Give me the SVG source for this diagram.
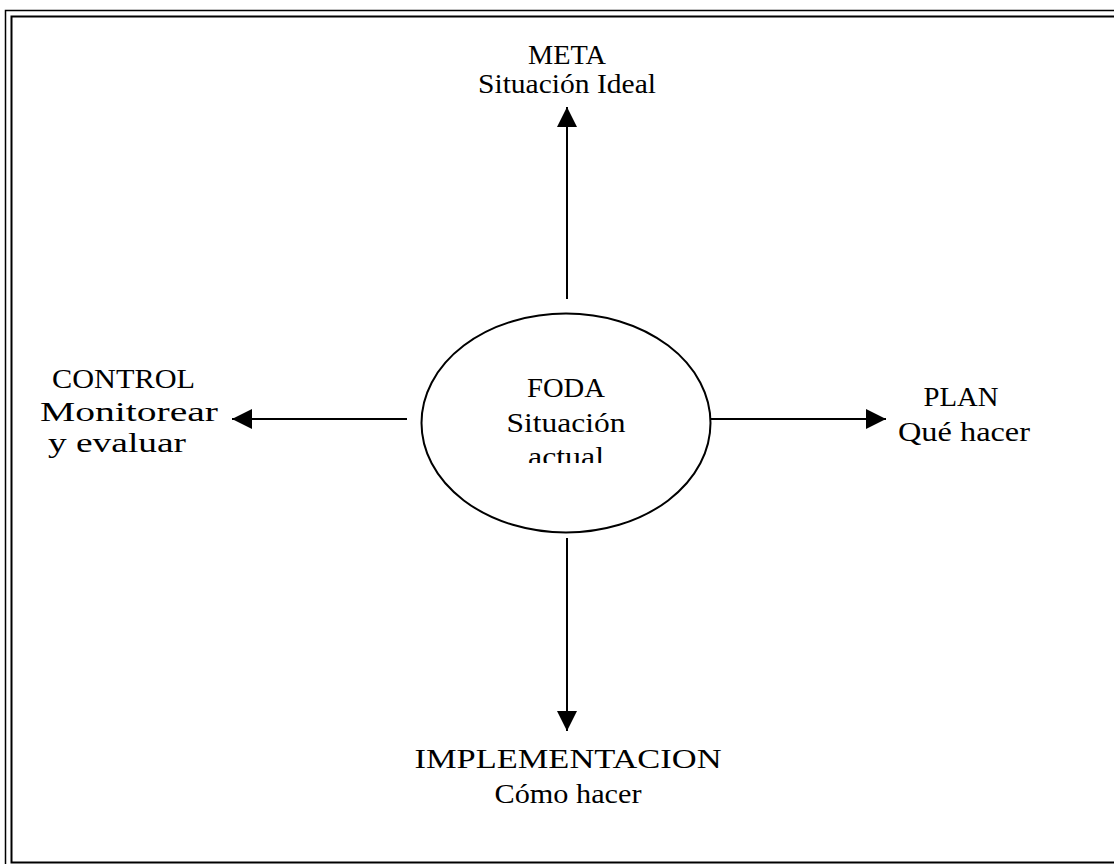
<svg xmlns="http://www.w3.org/2000/svg" width="1114" height="864" viewBox="0 0 1114 864">
  <style>
    .lbl { font-family: "Liberation Serif", "Times New Roman", serif; font-size: 27px; fill: #000; text-anchor: middle; }
    .conn { stroke: #000; stroke-width: 2; fill: none; }
  </style>
  <defs>
    <marker id="arrow" markerUnits="userSpaceOnUse" markerWidth="22" markerHeight="22" refX="20" refY="10" orient="auto">
      <path d="M0,0 L20,10 L0,20 Z" fill="#000"/>
    </marker>
    <clipPath id="clipFoda">
      <rect x="400" y="300" width="330" height="163"/>
    </clipPath>
  </defs>
  <rect width="1114" height="864" fill="#fff"/>
  <g id="frame">
    <rect x="5.5" y="10.5" width="1120" height="870" fill="none" stroke="#000" stroke-width="1.5"/>
    <rect x="11.5" y="16.5" width="1120" height="846" fill="none" stroke="#000" stroke-width="2"/>
  </g>
  <g id="connectors">
    <line class="conn" x1="567" y1="299" x2="567" y2="107" marker-end="url(#arrow)"/>
    <line class="conn" x1="567" y1="538" x2="567" y2="731" marker-end="url(#arrow)"/>
    <line class="conn" x1="407" y1="419" x2="232" y2="419" marker-end="url(#arrow)"/>
    <line class="conn" x1="710" y1="419" x2="886" y2="419" marker-end="url(#arrow)"/>
  </g>
  <g id="foda">
    <ellipse cx="566" cy="423" rx="144.5" ry="109.5" fill="#fff" stroke="#000" stroke-width="2"/>
    <g clip-path="url(#clipFoda)">
      <text class="lbl" x="566" y="397" textLength="78" lengthAdjust="spacingAndGlyphs">FODA</text>
      <text class="lbl" x="566" y="431.5" textLength="119" lengthAdjust="spacingAndGlyphs">Situación</text>
      <text class="lbl" x="566" y="466" textLength="76" lengthAdjust="spacingAndGlyphs">actual</text>
    </g>
  </g>
  <g id="meta">
    <text class="lbl" x="567" y="64" textLength="78" lengthAdjust="spacingAndGlyphs">META</text>
    <text class="lbl" x="567" y="93" textLength="178" lengthAdjust="spacingAndGlyphs">Situación Ideal</text>
  </g>
  <g id="control">
    <text class="lbl" x="123.5" y="388" textLength="143" lengthAdjust="spacingAndGlyphs">CONTROL</text>
    <text class="lbl" x="129" y="421" textLength="178" lengthAdjust="spacingAndGlyphs">Monitorear</text>
    <text class="lbl" x="117" y="452" textLength="138" lengthAdjust="spacingAndGlyphs">y evaluar</text>
  </g>
  <g id="plan">
    <text class="lbl" x="961" y="406" textLength="75" lengthAdjust="spacingAndGlyphs">PLAN</text>
    <text class="lbl" x="964" y="441" textLength="132" lengthAdjust="spacingAndGlyphs">Qué hacer</text>
  </g>
  <g id="implementacion">
    <text class="lbl" x="568" y="768" textLength="307" lengthAdjust="spacingAndGlyphs">IMPLEMENTACION</text>
    <text class="lbl" x="568" y="803" textLength="147" lengthAdjust="spacingAndGlyphs">Cómo hacer</text>
  </g>
</svg>
